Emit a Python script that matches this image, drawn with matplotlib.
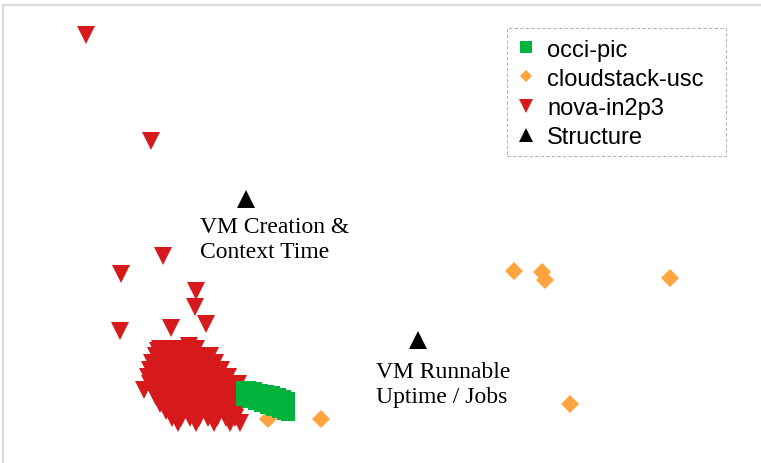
import matplotlib.pyplot as plt
from matplotlib.lines import Line2D
from matplotlib.patches import Rectangle

# 2-D projection of the runs (arbitrary units, y grows downward)
occi_x = [243, 243, 243, 249, 249, 249, 255, 255, 255, 261, 261, 261, 267, 267, 267,
          273, 273, 273, 279, 279, 279, 284, 284, 284, 288, 288, 288]
occi_y = [389, 395, 400, 389, 396, 402, 390, 397, 404, 392, 399, 406, 393, 401, 408,
          394, 403, 410, 396, 405, 412, 398, 407, 414, 400, 408, 415]

cloud_x = [514, 542, 545, 670, 570, 321, 268]
cloud_y = [272, 273, 281, 279, 405, 420, 420]

nova_x = [86, 151, 163, 121, 196, 195, 206, 120, 171, 189, 158,
          160, 168, 178, 188, 196,
          156, 166, 175, 184, 193, 202, 210,
          152, 161, 170, 179, 188, 197, 206, 215,
          150, 158, 167, 176, 185, 194, 203, 212, 221,
          148, 156, 165, 174, 183, 192, 201, 210, 219, 228,
          150, 160, 169, 178, 187, 196, 205, 214, 223, 232, 238,
          144, 155, 164, 173, 182, 191, 200, 209, 218, 227, 236,
          156, 166, 175, 184, 193, 202, 211, 220, 229, 238,
          160, 170, 179, 188, 197, 206, 215, 224, 233, 240,
          166, 175, 184, 193, 202, 211, 220, 229, 237,
          172, 181, 190, 199, 208, 217, 226, 235,
          178, 196, 214, 230, 240]
nova_y = [36, 142, 257, 275, 292, 308, 325, 332, 329, 347, 352,
          350, 350, 350, 350, 350,
          357, 357, 357, 357, 357, 357, 357,
          364, 364, 364, 364, 364, 364, 364, 364,
          371, 371, 371, 371, 371, 371, 371, 371, 371,
          378, 378, 378, 378, 378, 378, 378, 378, 378, 378,
          385, 385, 385, 385, 385, 385, 385, 385, 385, 385, 385,
          391, 391, 391, 391, 391, 391, 391, 391, 391, 391, 391,
          398, 398, 398, 398, 398, 398, 398, 398, 398, 398,
          405, 405, 405, 405, 405, 405, 405, 405, 405, 405,
          412, 412, 412, 412, 412, 412, 412, 412, 412,
          419, 419, 419, 419, 419, 419, 419, 419,
          424, 424, 424, 424, 424]

struct_x = [246, 418]
struct_y = [200, 341]
struct_labels = ["VM Creation &\nContext Time", "VM Runnable\nUptime / Jobs"]

green = "#00b33c"
orange = "#ffa43f"
red = "#d6191b"

W, H = 761, 464
fig = plt.figure(figsize=(W / 100, H / 100), dpi=100)
ax = fig.add_axes([3 / W, 0, 758 / W, 458 / H])
ax.set_xlim(3, 761)
ax.set_ylim(464, 6)
ax.set_xticks([])
ax.set_yticks([])
for s in ["right", "bottom"]:
    ax.spines[s].set_visible(False)
for s in ["left", "top"]:
    ax.spines[s].set_color("#dcdcdc")
    ax.spines[s].set_linewidth(1.6)

ax.plot(cloud_x, cloud_y, "D", ms=9.2, color=orange, mew=0, ls="none")
ax.plot(nova_x, nova_y, "v", ms=13.5, color=red, mew=0, ls="none")
ax.plot(occi_x, occi_y, "s", ms=10, color=green, mew=0, ls="none")
ax.plot(struct_x, struct_y, "^", ms=13, color="black", mew=0, ls="none")

# labels under the structure markers (baseline = last line)
ax.text(200, 258, struct_labels[0], family="Liberation Serif", fontsize=17,
        va="baseline", ha="left", linespacing=1.23)
ax.text(376, 403, struct_labels[1], family="Liberation Serif", fontsize=17,
        va="baseline", ha="left", linespacing=1.23)

handles = [
    Line2D([], [], marker="s", ls="none", color=green, ms=9, mew=0),
    Line2D([], [], marker="D", ls="none", color=orange, ms=6.5, mew=0),
    Line2D([], [], marker="v", ls="none", color=red, ms=9.5, mew=0),
    Line2D([], [], marker="^", ls="none", color="black", ms=9.5, mew=0),
]
labels = ["occi-pic", "cloudstack-usc", "nova-in2p3", "Structure"]
leg = fig.legend(handles, labels, loc="upper left",
                 bbox_to_anchor=(507 / W, 1 - 29 / H), borderaxespad=0,
                 prop={"family": "Liberation Sans", "size": 17},
                 frameon=False, handlelength=0.7,
                 handletextpad=0.55, labelspacing=0.3, borderpad=0.45)

# dashed legend box, a bit wider than the entries
fig.patches.append(Rectangle((507 / W, 1 - 157 / H), 219 / W, 128 / H,
                             transform=fig.transFigure, fill=False,
                             edgecolor="#b5b5b5", linestyle=(0, (3, 2)),
                             linewidth=0.8))

fig.savefig("out.png", dpi=100)
